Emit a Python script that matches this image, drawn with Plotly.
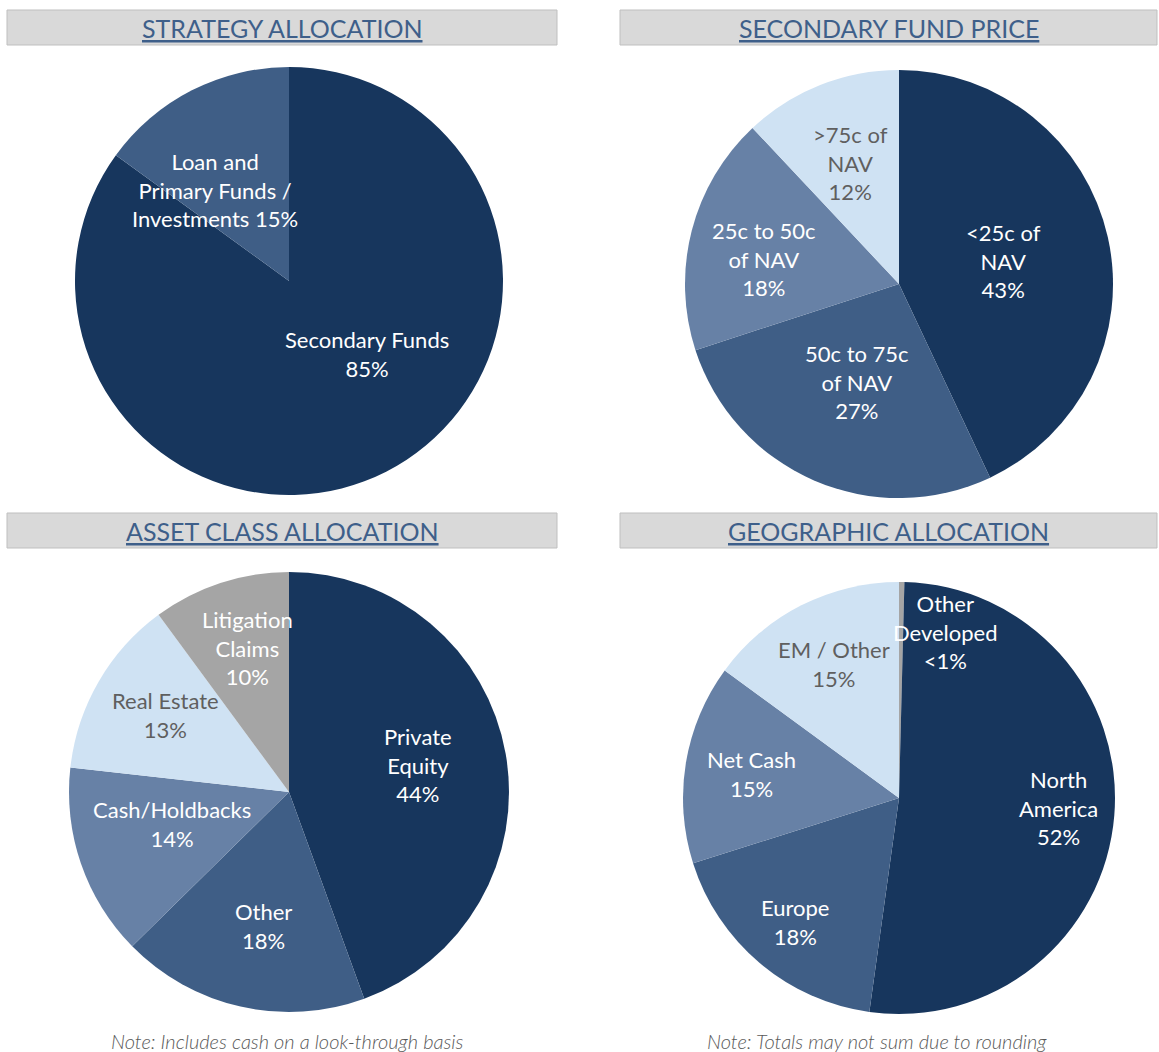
import math
import plotly.graph_objects as go

W, H = 1159, 1052
FONT = "Lato"

NAVY = "#17365d"
MED = "#3f5e86"
LIGHT = "#6781a6"
PALE = "#cfe2f3"
GRAY = "#a5a5a5"
TXT_DARK = "#5f5f5f"

# ---- data ----
strategy_labels = ["Secondary Funds", "Loan and Primary Funds / Investments"]
strategy_values = [85, 15]
strategy_text = ["Secondary Funds<br>85%", "Loan and<br>Primary Funds /<br>Investments 15%"]

price_labels = ["<25c of NAV", "50c to 75c of NAV", "25c to 50c of NAV", ">75c of NAV"]
price_values = [43, 27, 18, 12]
price_text = ["<25c of<br>NAV<br>43%", "50c to 75c<br>of NAV<br>27%", "25c to 50c<br>of NAV<br>18%", ">75c of<br>NAV<br>12%"]

asset_labels = ["Private Equity", "Other", "Cash/Holdbacks", "Real Estate", "Litigation Claims"]
asset_values = [44, 18, 14, 13, 10]
asset_text = ["Private<br>Equity<br>44%", "Other<br>18%", "Cash/Holdbacks<br>14%", "Real Estate<br>13%", "Litigation<br>Claims<br>10%"]

geo_labels = ["Other Developed", "North America", "Europe", "Net Cash", "EM / Other"]
geo_values = [0.4, 52, 18, 15, 15]
geo_text = ["Other<br>Developed<br><1%", "North<br>America<br>52%", "Europe<br>18%", "Net Cash<br>15%", "EM / Other<br>15%"]

titles = ["STRATEGY ALLOCATION", "SECONDARY FUND PRICE", "ASSET CLASS ALLOCATION", "GEOGRAPHIC ALLOCATION"]
notes = ["Note: Includes cash on a look-through basis", "Note: Totals may not sum due to rounding"]

fig = go.Figure()
annotations = []
shapes = []


def dom(cx, cy, r):
    return dict(x=[(cx - r) / W, (cx + r) / W], y=[1 - (cy + r) / H, 1 - (cy - r) / H])


def add_pie(labels, values, text, colors, textcolors, cx, cy, r, radial, angle_shift):
    fig.add_trace(go.Pie(
        labels=labels, values=values, textinfo="none",
        sort=False, direction="clockwise", rotation=0,
        marker=dict(colors=colors, line=dict(width=0)),
        hoverinfo="label+percent", domain=dom(cx, cy, r), showlegend=False,
    ))
    # label placement along each slice's bisector (clockwise from 12 o'clock)
    total = sum(values)
    cum = 0
    for v, t, tc, k, da in zip(values, text, textcolors, radial, angle_shift):
        mid = (cum + v / 2) / total * 360 + da
        cum += v
        a = math.radians(mid)
        x = cx + k * r * math.sin(a)
        y = cy - k * r * math.cos(a)
        annotations.append(dict(text=t, x=x / W, y=1 - y / H, xref="paper", yref="paper",
                                xanchor="center", yanchor="middle", showarrow=False,
                                font=dict(family=FONT, size=22, color=tc, weight=400)))


add_pie(strategy_labels, strategy_values, strategy_text, [NAVY, MED], ["white", "white"],
        289, 281, 214, [0.5, 0.55], [-20, -12])
add_pie(price_labels, price_values, price_text, [NAVY, MED, LIGHT, PALE],
        ["white", "white", "white", TXT_DARK], 899, 284, 214, [0.5, 0.5, 0.64, 0.61], [0, 0, -4, 0])
add_pie(asset_labels, asset_values, asset_text, [NAVY, MED, LIGHT, PALE, GRAY],
        ["white", "white", "white", TXT_DARK, "white"], 289, 792, 220,
        [0.6, 0.62, 0.55, 0.66, 0.68], [-2, -2, 4, 2, 2])
add_pie(geo_labels, geo_values, geo_text, [GRAY, NAVY, MED, LIGHT, PALE],
        ["white", "white", "white", "white", TXT_DARK], 899, 798, 216,
        [0.8, 0.74, 0.75, 0.69, 0.69], [15, -1, 0, 0, 1])

bars = [(7, 557, 10, 45), (620, 1157, 10, 45), (7, 557, 513, 548), (620, 1157, 513, 548)]
for (x0, x1, y0, y1), t in zip(bars, titles):
    shapes.append(dict(type="rect", xref="paper", yref="paper",
                       x0=x0 / W, x1=x1 / W, y0=1 - y1 / H, y1=1 - y0 / H,
                       fillcolor="#d9d9d9", line=dict(color="#bfbfbf", width=1), layer="below"))
    annotations.append(dict(text="<u>" + t + "</u>", x=(x0 + x1) / 2 / W, y=1 - (y0 + y1) / 2 / H,
                            xref="paper", yref="paper", xanchor="center", yanchor="middle",
                            showarrow=False,
                            font=dict(family=FONT, size=25, color="#3e5f8a")))

for t, x in zip(notes, [287, 877]):
    annotations.append(dict(text="<i>" + t + "</i>", x=x / W, y=1 - 1041 / H, xref="paper", yref="paper",
                            xanchor="center", yanchor="middle", showarrow=False,
                            font=dict(family=FONT, size=20, color="#595959", weight=300)))

fig.update_layout(width=W, height=H, margin=dict(l=0, r=0, t=0, b=0),
                  paper_bgcolor="white", plot_bgcolor="white",
                  shapes=shapes, annotations=annotations)

fig.write_html("out.html", config={"displayModeBar": False},
               post_script="document.body.style.margin='0';")
